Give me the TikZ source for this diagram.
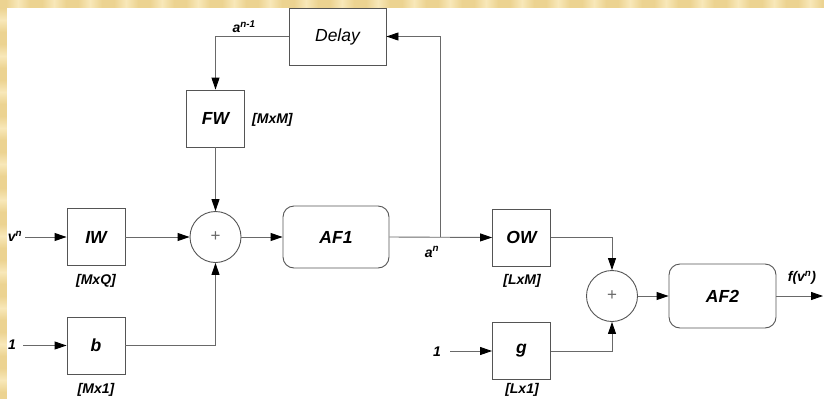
\documentclass[tikz,border=0pt]{standalone}
\usepackage{fontspec}
\setmainfont{Liberation Sans}
\usetikzlibrary{arrows.meta,calc}
\definecolor{gold}{RGB}{236,211,145}
\definecolor{goldl}{RGB}{248,232,185}
\definecolor{linec}{RGB}{105,105,105}
\definecolor{boxc}{RGB}{85,85,85}
\begin{document}
\begin{tikzpicture}[x=1pt,y=-1pt,
  blk/.style={draw=boxc, line width=0.9pt, fill=white, minimum width=58pt, minimum height=57pt, inner sep=0pt,
    font=\fontsize{17.5}{19}\selectfont\bfseries\itshape},
  rblk/.style={blk, rounded corners=11pt, minimum width=106pt, minimum height=62pt},
  sumc/.style={circle, draw=boxc, line width=0.9pt, fill=white, minimum size=51pt, inner sep=0pt,
    font=\fontsize{17}{19}\selectfont\color{linec}},
  lab/.style={inner sep=0pt, font=\fontsize{14}{16}\selectfont\bfseries\itshape},
  conn/.style={draw=linec, line width=0.9pt},
  arr/.style={conn, -{Triangle[length=12pt,width=8pt,color=black]}}
]
\useasboundingbox (0,0) rectangle (824,399);
% background
\fill[gold] (0,0) rectangle (824,399);
\foreach \xx in {0,36,...,800} {\shade[left color=gold, right color=gold, middle color=goldl] (\xx+6,0) rectangle (\xx+30,8);}
\foreach \yy in {0,36,...,380} {\shade[top color=gold, bottom color=gold, middle color=goldl] (0,\yy+8) rectangle (7,\yy+32);}
\fill[white] (7,8) rectangle (824,399);

% blocks
\node[blk, minimum width=97pt] (delay) at (337.5,36.5) {\mdseries Delay};
\node[blk] (fw) at (215.5,118.5) {FW};
\node[blk] (iw) at (96,237) {IW};
\node[blk] (b) at (96,345.5) {b};
\node[sumc] (s1) at (215.5,237) {+};
\node[rblk] (af1) at (336,237) {AF1};
\node[blk] (ow) at (521.5,237.5) {OW};
\node[blk] (g) at (521.5,351) {g};
\node[sumc] (s2) at (612,296) {+};
\node[rblk, minimum width=107pt, minimum height=64pt] (af2) at (722.5,296) {AF2};

% labels
\node[lab] (lv) at (15,236) {v\textsuperscript{n}};
\node[lab] (l1a) at (12,345) {1};
\node[lab] (l1b) at (437,352) {1};
\node[lab] (lmxq) at (96,281) {[MxQ]};
\node[lab] (lmx1) at (96,390) {[Mx1]};
\node[lab, anchor=west] (lmxm) at (252,120) {[MxM]};
\node[lab] (llxm) at (522,281) {[LxM]};
\node[lab] (llx1) at (522,390) {[Lx1]};
\node[lab] (lan1) at (244,27) {a\textsuperscript{n-1}};
\node[lab] (lan) at (432,252) {a\textsuperscript{n}};
\node[lab] (lf) at (802,278) {f(v\textsuperscript{n})};

% coordinates
\coordinate (vin) at (25,237);
\coordinate (oin) at (23,345.5);
\coordinate (gin) at (450,351);
\coordinate (j) at (440,237);
\coordinate (out) at (823,296);

% connectors
\draw[arr] (vin) -- (iw.west);
\draw[arr] (oin) -- (b.west);
\draw[arr] (gin) -- (g.west);
\draw[arr] (iw.east) -- (s1.west);
\draw[arr] (fw.south) -- (s1.north);
\draw[arr] (b.east) -| (s1.south);
\draw[arr] (s1.east) -- (af1.west);
\draw[arr] (delay.west) -| (fw.north);
\draw[arr] (af1.east) -- (ow.west);
\draw[arr] (j) |- (delay.east);
\draw[arr] (ow.east) -| (s2.north);
\draw[arr] (g.east) -| (s2.south);
\draw[arr] (s2.east) -- (af2.west);
\draw[arr] (af2.east) -- (out);
\end{tikzpicture}
\end{document}
